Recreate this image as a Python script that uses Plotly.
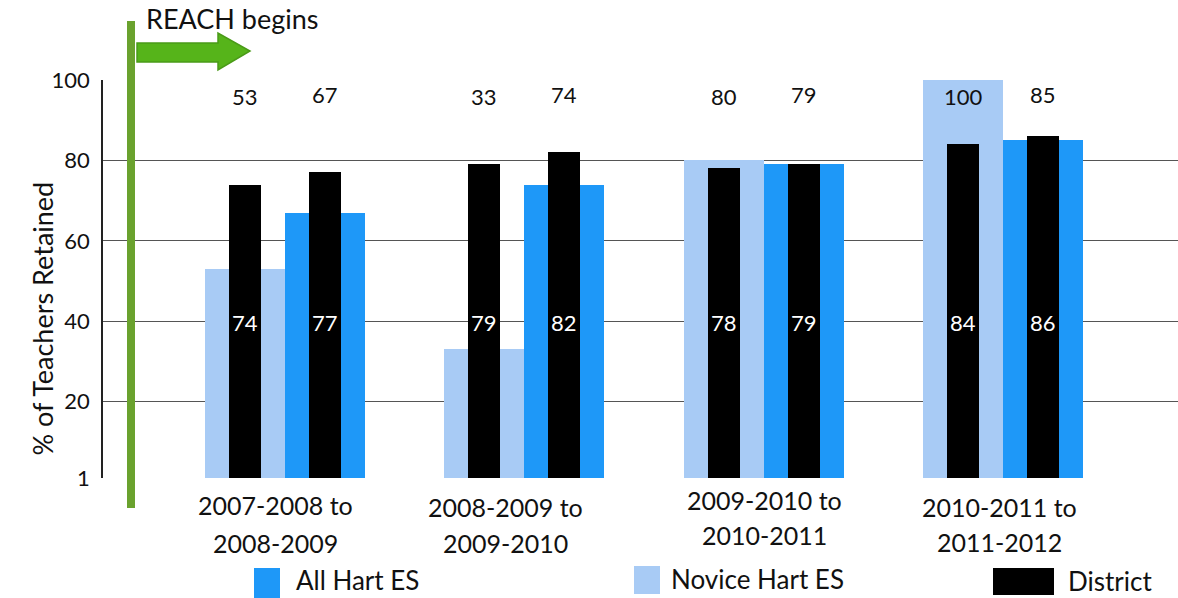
import plotly.graph_objects as go

# ---------------- data ----------------
categories = ["2007-2008 to 2008-2009", "2008-2009 to 2009-2010",
              "2009-2010 to 2010-2011", "2010-2011 to 2011-2012"]
cat_line1 = ["2007-2008 to", "2008-2009 to", "2009-2010 to", "2010-2011 to"]
cat_line2 = ["2008-2009", "2009-2010", "2010-2011", "2011-2012"]
novice_hart = [53, 33, 80, 100]
district_vs_novice = [74, 79, 78, 84]
all_hart = [67, 74, 79, 85]
district_vs_all = [77, 82, 79, 86]
y_ticks = [1, 20, 40, 60, 80, 100]
legend_names = ["All Hart ES", "Novice Hart ES", "District"]

# ---------------- style ----------------
FONT = "Lato, 'Open Sans', sans-serif"
C_BLUE = "#1E98F8"
C_LIGHT = "#A8CBF5"
C_BLACK = "#000000"
C_GREEN = "#6AA22E"

W, H = 1178, 598
L, R, T, B = 103, 0, 80, 120
PW, PH = W - L - R, H - T - B


def px(x):
    return (x - L) / PW


def py(y):
    return (H - B - y) / PH


x_idx = list(range(len(categories)))
WIDE = 0.334
NARROW = 0.134

fig = go.Figure()
fig.add_trace(go.Bar(x=x_idx, y=novice_hart, width=WIDE, offset=-WIDE,
                     marker=dict(color=C_LIGHT, line=dict(width=0)),
                     name="Novice Hart ES", showlegend=False, hoverinfo="y"))
fig.add_trace(go.Bar(x=x_idx, y=all_hart, width=WIDE, offset=0,
                     marker=dict(color=C_BLUE, line=dict(width=0)),
                     name="All Hart ES", showlegend=False, hoverinfo="y"))
fig.add_trace(go.Bar(x=x_idx, y=district_vs_novice, width=NARROW,
                     offset=-WIDE / 2 - NARROW / 2,
                     marker=dict(color=C_BLACK, line=dict(width=0)),
                     name="District", showlegend=False, hoverinfo="y"))
fig.add_trace(go.Bar(x=x_idx, y=district_vs_all, width=NARROW,
                     offset=WIDE / 2 - NARROW / 2,
                     marker=dict(color=C_BLACK, line=dict(width=0)),
                     name="District ", showlegend=False, hoverinfo="y"))

annotations = []
LBL = 22
for i in x_idx:
    annotations.append(dict(x=i - WIDE / 2, y=95.8, xref="x", yref="y",
                            text=str(novice_hart[i]), showarrow=False,
                            font=dict(family=FONT, size=LBL, color="#111")))
    annotations.append(dict(x=i + WIDE / 2, y=96.3, xref="x", yref="y",
                            text=str(all_hart[i]), showarrow=False,
                            font=dict(family=FONT, size=LBL, color="#111")))
    annotations.append(dict(x=i - WIDE / 2, y=39.8, xref="x", yref="y",
                            text=str(district_vs_novice[i]), showarrow=False,
                            font=dict(family=FONT, size=LBL, color="white")))
    annotations.append(dict(x=i + WIDE / 2, y=39.8, xref="x", yref="y",
                            text=str(district_vs_all[i]), showarrow=False,
                            font=dict(family=FONT, size=LBL, color="white")))

# category labels (two lines each)
line_shift = [-10, -19, 1, -4]
line1_y = [505, 507, 500, 507]
line2_y = [543, 543, 535, 542]
for i in x_idx:
    annotations.append(dict(x=i, y=py(line1_y[i]), xref="x", yref="paper",
                            xshift=line_shift[i], text=cat_line1[i],
                            showarrow=False, yanchor="middle",
                            font=dict(family=FONT, size=25, color="#111")))
    annotations.append(dict(x=i, y=py(line2_y[i]), xref="x", yref="paper",
                            xshift=line_shift[i], text=cat_line2[i],
                            showarrow=False, yanchor="middle",
                            font=dict(family=FONT, size=25, color="#111")))

# y-axis title
annotations.append(dict(x=px(23), y=py(319), xref="paper", yref="paper",
                        text="% of Teachers Retained", textangle=-90,
                        showarrow=False, font=dict(family=FONT, size=27, color="#111")))

# REACH begins
annotations.append(dict(x=px(144), y=py(18), xref="paper", yref="paper",
                        xanchor="left", yanchor="middle", text="REACH begins",
                        showarrow=False, font=dict(family=FONT, size=27, color="#111")))

# custom legend
legend_colors = [C_BLUE, C_LIGHT, C_BLACK]
legend_boxes = [(254, 280, 568, 598), (634, 660, 566, 594), (993, 1054, 568, 595)]
legend_text = [(295, 580), (670, 579), (1067, 581)]
shapes = []
for name, col, (x0, x1, y0, y1), (tx, ty) in zip(legend_names, legend_colors,
                                                 legend_boxes, legend_text):
    shapes.append(dict(type="rect", xref="paper", yref="paper",
                       x0=px(x0), x1=px(x1), y0=py(y1), y1=py(y0),
                       fillcolor=col, line=dict(width=0), layer="above"))
    annotations.append(dict(x=px(tx), y=py(ty), xref="paper", yref="paper",
                            xanchor="left", yanchor="middle", text=name,
                            showarrow=False, borderpad=0,
                            font=dict(family=FONT, size=26, color="#111")))

# green vertical marker line
shapes.append(dict(type="line", xref="paper", yref="paper",
                   x0=px(131), x1=px(131), y0=py(21), y1=py(508),
                   line=dict(color=C_GREEN, width=8), layer="above"))

# green arrow
pts = [(137, 43), (218, 43), (218, 33), (250, 51), (218, 70), (218, 62), (137, 62)]
path = "M" + " L".join(f"{px(a):.5f},{py(b):.5f}" for a, b in pts) + " Z"
shapes.append(dict(type="path", xref="paper", yref="paper", path=path,
                   fillcolor="#56B41A", line=dict(color="#4A9A18", width=1.5),
                   layer="above"))

fig.update_layout(
    width=W, height=H,
    margin=dict(l=L, r=R, t=T, b=B, pad=0),
    paper_bgcolor="white", plot_bgcolor="white",
    barmode="overlay", bargap=0,
    showlegend=False,
    font=dict(family=FONT, color="#111"),
    annotations=annotations,
    shapes=shapes,
    xaxis=dict(range=[-0.7605, 3.731], showticklabels=False, ticks="",
               showgrid=False, zeroline=False, showline=False, fixedrange=True),
    yaxis=dict(range=[1, 100], tickvals=y_ticks, ticktext=[str(v) for v in y_ticks],
               showgrid=True, gridcolor="#555555", gridwidth=1,
               zeroline=False, showline=True, linecolor="#222", linewidth=1.5,
               ticks="", ticklabelstandoff=7,
               tickfont=dict(family=FONT, size=22, color="#111"), fixedrange=True),
)

fig.write_html("out.html",
               config={"displayModeBar": False},
               post_script="document.body.style.margin='0';"
                           "document.body.style.overflow='hidden';")
